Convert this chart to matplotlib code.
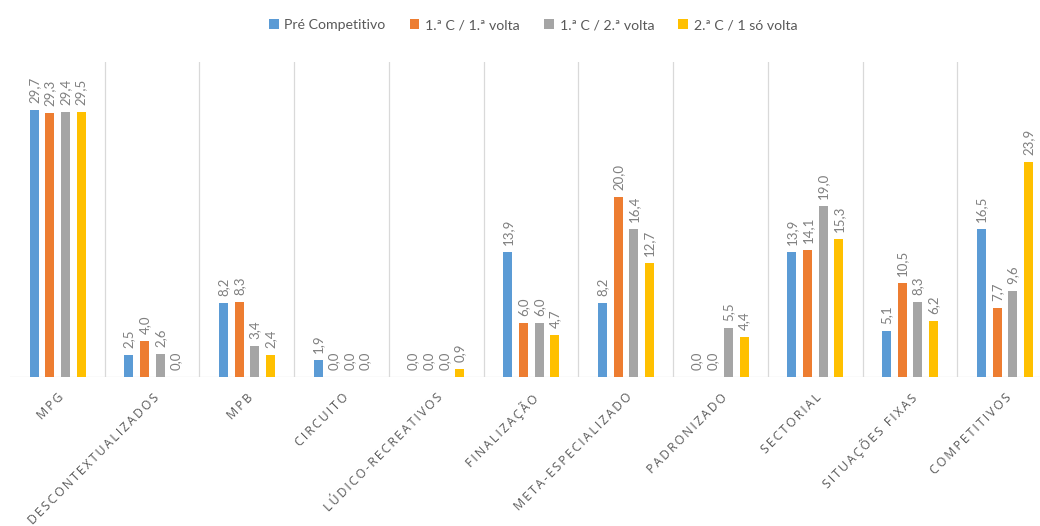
import matplotlib.pyplot as plt
import numpy as np

categories = ["MPG", "DESCONTEXTUALIZADOS", "MPB", "CIRCUITO", "LÚDICO-RECREATIVOS",
              "FINALIZAÇÃO", "META-ESPECIALIZADO", "PADRONIZADO", "SECTORIAL",
              "SITUAÇÕES FIXAS", "COMPETITIVOS"]

series_names = ["Pré Competitivo", "1.ª C / 1.ª volta", "1.ª C / 2.ª volta", "2.ª C / 1 só volta"]

pre_competitivo = [29.7, 2.5, 8.2, 1.9, 0.0, 13.9, 8.2, 0.0, 13.9, 5.1, 16.5]
c1_volta1 = [29.3, 4.0, 8.3, 0.0, 0.0, 6.0, 20.0, 0.0, 14.1, 10.5, 7.7]
c1_volta2 = [29.4, 2.6, 3.4, 0.0, 0.0, 6.0, 16.4, 5.5, 19.0, 8.3, 9.6]
c2_so_volta = [29.5, 0.0, 2.4, 0.0, 0.9, 4.7, 12.7, 4.4, 15.3, 6.2, 23.9]

colors = ["#5B9BD5", "#ED7D31", "#A5A5A5", "#FFC000"]

fig = plt.figure(figsize=(10.4, 5.26), dpi=100)
# the last group runs past the right edge of the figure
ax = fig.add_axes([10 / 1040, 1 - 377 / 526, 1042 / 1040, 315 / 526])

x = np.arange(len(categories))
width = 0.095
offsets = [-0.245, -0.08, 0.085, 0.25]
all_series = [pre_competitivo, c1_volta1, c1_volta2, c2_so_volta]

for vals, name, col, off in zip(all_series, series_names, colors, offsets):
    bars = ax.bar(x + off, vals, width, color=col, label=name, zorder=3)
    for b, v in zip(bars, vals):
        ax.annotate(f"{v:.1f}".replace(".", ","),
                    (b.get_x() + b.get_width() / 2, v),
                    xytext=(0, 5), textcoords="offset points",
                    rotation=90, ha="center", va="bottom",
                    fontsize=9.5, color="#7F7F7F", family=["Lato", "DejaVu Sans"])

# vertical separators between categories
for s in np.arange(len(categories) - 1) + 0.5:
    ax.axvline(s, color="#D9D9D9", lw=0.9, zorder=1)
ax.axhline(0, color="#D9D9D9", lw=0.9, zorder=2)

ax.set_xlim(-0.5, len(categories) - 0.5)
ax.set_ylim(0, 35)
ax.set_yticks([])
ax.set_xticks(x)
spaced = ["\u2009".join(c) for c in categories]
ax.set_xticklabels(spaced, rotation=45, ha="right", va="top", rotation_mode="anchor",
                   fontsize=8.8, color="#595959", family=["Open Sans", "DejaVu Sans"])
ax.tick_params(axis="x", length=0, pad=10)
for sp in ax.spines.values():
    sp.set_visible(False)

fig.legend(loc="center", bbox_to_anchor=(533 / 1040, 1 - 25 / 526), ncol=4,
           frameon=False, handlelength=0.7, handleheight=0.7, handletextpad=0.4,
           columnspacing=1.7, prop={"family": "Lato", "size": 10.2}, labelcolor="#595959")

fig.savefig("out.png", dpi=100)
